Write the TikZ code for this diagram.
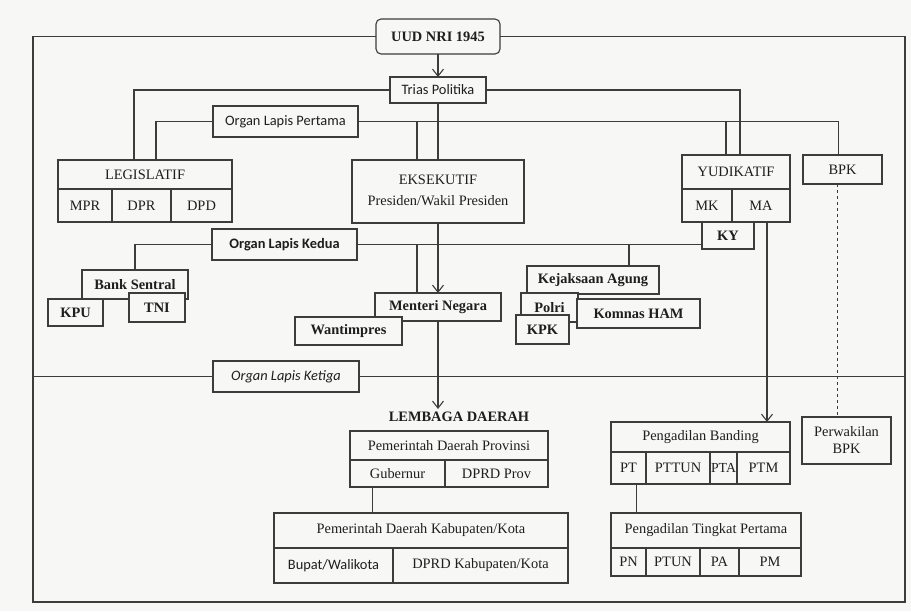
\documentclass[tikz,border=0pt]{standalone}
\usepackage{fontspec}
\setmainfont{Liberation Serif}
\newfontfamily\calibri{Carlito}
\usetikzlibrary{arrows.meta}
\definecolor{paper}{HTML}{F7F7F5}
\definecolor{ink}{HTML}{3C3C3C}
\definecolor{txt}{HTML}{1E1E1E}

% box from its two corners: name, style, x1, y1, x2, y2, text
\newcommand\cell[7]{%
  \node[#2, minimum width={(#5-#3)*1pt}, minimum height={(#6-#4)*1pt}]
       (#1) at ({(#3+#5)/2},{(#4+#6)/2}) {#7};}

\begin{document}
\begin{tikzpicture}[
    x=1pt, y=-1pt,
box/.style  = {draw=ink, fill=paper, line width=1.1pt, inner sep=0pt, outer sep=0pt,
               text=txt, align=center, font=\fontsize{14.4}{17}\selectfont},
bbox/.style = {box, font=\fontsize{14.4}{17}\selectfont\bfseries},
sbox/.style = {box, font=\fontsize{14.4}{17}\selectfont\calibri},
line/.style = {draw=ink, line width=1.1pt},
arr/.style  = {line, -{Straight Barb[length=7pt,width=11pt]}}
                        ]
\fill[paper] (0,0) rectangle (911,611);
\useasboundingbox (0,0) rectangle (911,611);
% top level
\cell{uud}{bbox, rounded corners=5pt}{376}{19}{500}{54}{UUD NRI 1945}
\cell{trias}{sbox}{390}{77}{486}{103}{Trias Politika}
\cell{olp1}{sbox}{213}{106}{358}{137}{Organ Lapis Pertama}
% organ lapis pertama
\cell{leg}{box}{58}{160}{232}{189}{LEGISLATIF}
\cell{mpr}{box}{58}{189}{112}{222}{MPR}
\cell{dpr}{box}{112}{189}{171}{222}{DPR}
\cell{dpd}{box}{171}{189}{232}{222}{DPD}
\cell{eks}{box}{352}{160}{524}{223}{\raisebox{4pt}{\begin{tabular}{@{}c@{}}EKSEKUTIF\\[4pt]Presiden/Wakil Presiden\end{tabular}}}
\cell{yud}{box}{682}{155}{790}{189}{YUDIKATIF}
\cell{mk}{box}{682}{189}{732}{222}{MK}
\cell{ma}{box}{732}{189}{790}{222}{MA}
\cell{ky}{bbox}{702}{222}{754}{249}{KY}
\cell{bpk}{box}{803}{155}{882}{184}{BPK}
% organ lapis kedua
\cell{olk2}{sbox, font=\fontsize{14.4}{17}\selectfont\calibri\bfseries}{212}{229}{357}{260}{Organ Lapis Kedua}
\cell{bank}{bbox}{82}{270}{188}{299}{Bank Sentral}
\cell{kpu}{bbox}{48}{299}{103}{326}{KPU}
\cell{tni}{bbox}{129}{293}{185}{322}{TNI}
\cell{men}{bbox}{375}{293}{501}{321}{Menteri Negara}
\cell{wan}{bbox}{295}{317}{402}{345}{Wantimpres}
\cell{kej}{bbox}{527}{266}{659}{294}{Kejaksaan Agung}
\cell{polri}{bbox}{521}{293}{578}{322}{Polri}
\cell{komnas}{bbox}{577}{299}{700}{328}{Komnas HAM}
\cell{kpk}{bbox}{516}{315}{569}{344}{KPK}
% organ lapis ketiga
\cell{olk3}{sbox, font=\fontsize{14.4}{17}\selectfont\calibri\itshape}{213}{361}{359}{392}{Organ Lapis Ketiga}
\node[text=txt, font=\fontsize{14.4}{17}\selectfont\bfseries, inner sep=3pt] (ld) at (459,417) {LEMBAGA DAERAH};
\cell{prov}{box}{350}{431}{548}{460}{Pemerintah Daerah Provinsi}
\cell{gub}{box}{350}{460}{445}{487}{Gubernur}
\cell{dprov}{box}{445}{460}{548}{487}{DPRD Prov}
\cell{kab}{box}{274}{513}{568}{548}{Pemerintah Daerah Kabupaten/Kota}
\cell{bup}{sbox}{274}{548}{393}{583}{Bupat/Walikota}
\cell{dkab}{box}{393}{548}{568}{583}{DPRD Kabupaten/Kota}
\cell{pb}{box}{611}{422}{790}{452}{Pengadilan Banding}
\cell{pt}{box}{611}{452}{646}{484}{PT}
\cell{pttun}{box}{646}{452}{710}{484}{PTTUN}
\cell{pta}{box, font=\fontsize{13.8}{15}\selectfont}{710}{452}{737}{484}{PTA}
\cell{ptm}{box}{737}{452}{790}{484}{PTM}
\cell{ptp}{box}{611}{513}{801}{548}{Pengadilan Tingkat Pertama}
\cell{pn}{box}{611}{548}{646}{576}{PN}
\cell{ptun}{box}{646}{548}{700}{576}{PTUN}
\cell{pa}{box}{700}{548}{739}{576}{PA}
\cell{pm}{box}{739}{548}{801}{576}{PM}
\cell{pbpk}{box}{802}{417}{891}{464}{Perwakilan\\BPK}
% frame
\coordinate (fbl) at (33,602);
\coordinate (fbr) at (905,602);
\draw[line] (uud.west) -| (fbl) -- (fbr) |- (uud.east);
\draw[line] (olk3.west) -- (olk3.west -| fbl);
\draw[line] (olk3.east) -- (olk3.east -| fbr);
% connectors
\draw[arr]  (uud.south) -- (trias.north);
\draw[line] (trias.west) -| ([xshift=-11]leg.north);
\draw[line] (trias.east) -| ([xshift=4]yud.north);
\draw[line] (trias.south) -- (eks.north);
\draw[line] (olp1.west) -| ([xshift=11]leg.north);
\draw[line] (olp1.east) -| ([xshift=-4]bpk.north);
\draw[line] ([xshift=-21]eks.north) |- (olp1.east);
\draw[line] ([xshift=-10]yud.north) |- (olp1.east);
\draw[line] (olk2.west) -| (bank.north);
\draw[line] (olk2.east) -- (olk2.east -| ky.west);
\draw[line] ([xshift=-21]men.north) |- (olk2.east);
\draw[line] ([xshift=36]kej.north) |- (olk2.east);
\draw[arr]  (eks.south) -- (men.north);
\draw[arr]  (men.south) -- (men.south |- ld.north);
\draw[arr]  ([xshift=6]ma.south) -- ([xshift=6]ma.south |- pb.north);
\draw[line, dashed, line width=0.8pt] ([xshift=-5]bpk.south) -- ([xshift=-5]bpk.south |- pbpk.north);
\draw[line] ([xshift=-25]gub.south) -- ([xshift=-25]gub.south |- kab.north);
\draw[line] ([xshift=8]pt.south) -- ([xshift=8]pt.south |- ptp.north);
\end{tikzpicture}
\end{document}
